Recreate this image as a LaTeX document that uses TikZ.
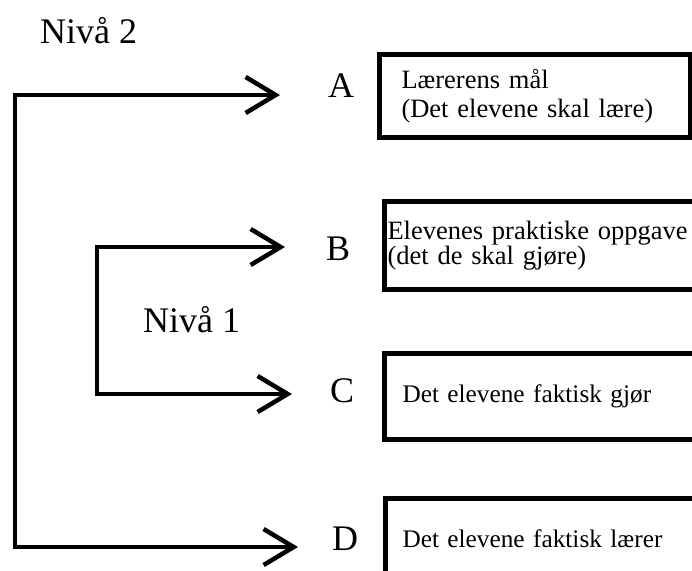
\documentclass[tikz,border=0pt]{standalone}
\usepackage{fontspec}
\setmainfont{Liberation Serif}
\usetikzlibrary{arrows.meta}

\begin{document}
\begin{tikzpicture}[x=1pt, y=-1pt,
    conn/.style = {line width=4.5pt, {Straight Barb[length=30pt, width=36pt]}-{Straight Barb[length=30pt, width=36pt]}},
    letter/.style = {anchor=base, inner sep=0pt, font=\fontsize{36}{40}\selectfont},
    level/.style = {anchor=base west, inner sep=0pt, font=\fontsize{36}{40}\selectfont},
    box/.style = {draw, line width=5pt, rectangle, anchor=north west, align=left, inner ysep=0pt, font=\fontsize{26.5}{29}\selectfont}]
    \path[use as bounding box, clip] (0,0) rectangle (692,570);

    \node[level] (niva2) at (40,43) {Nivå 2};
    \node[level] (niva1) at (143,332) {Nivå 1};

    \node[letter] (a) at (341,97) {A};
    \node[letter] (b) at (338,260) {B};
    \node[letter] (c) at (342,402) {C};
    \node[letter] (d) at (345,550) {D};

    \node[box] (boxa) [inner xsep=22pt, text width=267pt, minimum height=83pt] at (377,52) {Lærerens mål\\(Det elevene skal lære)};
    \node[box] (boxb) [inner xsep=3pt, text width=372pt, minimum height=88pt, font=\fontsize{26.5}{24}\selectfont] at (382,199) {Elevenes praktiske oppgave\\(det de skal gjøre)};
    \node[box] (boxc) [inner xsep=18pt, text width=340pt, minimum height=86pt, font=\fontsize{25.3}{29}\selectfont] at (382,351) {Det elevene faktisk gjør};
    \node[box] (boxd) [inner xsep=17pt, text width=340pt, minimum height=80pt, font=\fontsize{25.3}{29}\selectfont] at (383,496) {Det elevene faktisk lærer};

    \coordinate (n2top) at (15,95);
    \coordinate (n2bot) at (15,547);
    \coordinate (tipa) at (280,95);
    \coordinate (tipd) at (298,547);
    \coordinate (n1top) at (97,247);
    \coordinate (n1bot) at (97,394);
    \coordinate (tipb) at (285,247);
    \coordinate (tipc) at (292,394);

    \draw[conn] (tipa) -- (n2top) -- (n2bot) -- (tipd);
    \draw[conn] (tipb) -- (n1top) -- (n1bot) -- (tipc);

\end{tikzpicture}
\end{document}
